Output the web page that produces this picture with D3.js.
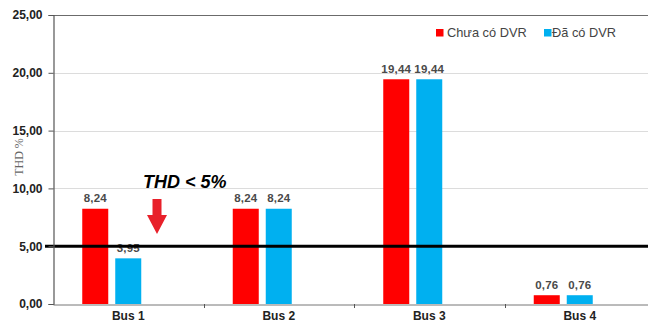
<!DOCTYPE html>
<html>
<head>
<meta charset="utf-8">
<script src="https://cdn.jsdelivr.net/npm/d3@7"></script>
<style>
  html, body { margin: 0; padding: 0; background: #fff; }
  svg { display: block; }
</style>
</head>
<body>
<svg id="chart" width="648" height="323"></svg>
<script>
// Harmonic distortion per bus, before and after the DVR
const categories = ["Bus 1", "Bus 2", "Bus 3", "Bus 4"];
const seriesNames = ["Chưa có DVR", "Đã có DVR"];
const beforeDVR = [8.24, 8.24, 19.44, 0.76];
const afterDVR = [3.95, 8.24, 19.44, 0.76];
const yTicks = [0, 5, 10, 15, 20, 25];
const limitValue = 5;
const limitLabel = "THD < 5%";
const yTitle = "THD %";

const colors = ["#ff0000", "#00b0f0"];
const seriesValues = [beforeDVR, afterDVR];

const svg = d3.select("#chart");
const plotLeft = 53, plotTop = 15, plotBottom = 304, plotRight = 655;

const x = d3.scaleBand().domain(categories).range([plotLeft, plotRight]).padding(0);
// three slots per group; the third one stays empty
const xSub = d3.scaleBand().domain([0, 1, 2])
  .range([29.25, x.bandwidth() - 29.25]).paddingInner(0.212).paddingOuter(0);
const y = d3.scaleLinear().domain([0, 25]).range([plotBottom, plotTop]);

const fmt = v => d3.format(".2f")(v).replace(".", ",");

// gridlines
svg.append("g").selectAll("line").data(yTicks.filter(t => t > 0 && t < 25)).join("line")
  .attr("x1", plotLeft).attr("x2", 648)
  .attr("y1", d => Math.round(y(d)) + 0.5).attr("y2", d => Math.round(y(d)) + 0.5)
  .attr("stroke", "#dcdcdc").attr("stroke-width", 1);

// top border
svg.append("line").attr("x1", plotLeft).attr("x2", 648)
  .attr("y1", Math.round(y(25)) + 0.5).attr("y2", Math.round(y(25)) + 0.5)
  .attr("stroke", "#6b6b6b").attr("stroke-width", 1.2);

// bars
const groups = svg.append("g").selectAll("g").data(categories).join("g")
  .attr("transform", d => `translate(${x(d)},0)`);

seriesValues.forEach((vals, si) => {
  groups.append("rect")
    .attr("x", xSub(si)).attr("width", xSub.bandwidth())
    .attr("y", (d, i) => y(vals[i]))
    .attr("height", (d, i) => y(0) - y(vals[i]))
    .attr("fill", colors[si]);
  groups.append("text")
    .attr("x", xSub(si) + xSub.bandwidth() / 2)
    .attr("y", (d, i) => y(vals[i]) - 6.5)
    .attr("text-anchor", "middle")
    .attr("font-family", "Liberation Sans, Arial, sans-serif")
    .attr("font-weight", "bold").attr("font-size", 11.5)
    .attr("letter-spacing", 0.2)
    .attr("fill", "#4a4a4a")
    .text((d, i) => fmt(vals[i]));
});

// limit line
svg.append("line").attr("x1", 45).attr("x2", 648)
  .attr("y1", y(limitValue)).attr("y2", y(limitValue))
  .attr("stroke", "#000").attr("stroke-width", 3);

// y axis
const yAxis = svg.append("g").attr("transform", `translate(${plotLeft + 0.5},0)`)
  .call(d3.axisLeft(y).tickValues(yTicks).tickFormat(fmt).tickSize(5).tickPadding(6));
yAxis.select(".domain").attr("stroke", "#555").attr("stroke-width", 1.2);
yAxis.selectAll(".tick line").attr("stroke", "#555");
yAxis.selectAll(".tick text")
  .attr("font-family", "Liberation Sans, Arial, sans-serif")
  .attr("font-weight", "bold").attr("font-size", 12).attr("fill", "#222");

// x axis
const xAxis = svg.append("g").attr("transform", `translate(0,${plotBottom + 0.5})`)
  .call(d3.axisBottom(x).tickSize(0).tickPadding(0));
xAxis.select(".domain").attr("stroke", "#777").attr("stroke-width", 1);
xAxis.selectAll(".tick text")
  .attr("y", 15.3).attr("dy", 0)
  .attr("font-family", "Liberation Sans, Arial, sans-serif")
  .attr("font-weight", "bold").attr("font-size", 12).attr("fill", "#222");
// category separators
svg.append("g").selectAll("line").data(categories.slice(1)).join("line")
  .attr("x1", d => Math.round(x(d)) + 0.5).attr("x2", d => Math.round(x(d)) + 0.5)
  .attr("y1", plotBottom).attr("y2", plotBottom + 4)
  .attr("stroke", "#555");

// y axis title
svg.append("text")
  .attr("transform", "translate(23,157) rotate(-90)")
  .attr("text-anchor", "middle")
  .attr("font-family", "Liberation Serif, Times New Roman, serif")
  .attr("font-size", 12).attr("fill", "#666")
  .text(yTitle);

// limit annotation
svg.append("text")
  .attr("x", 143).attr("y", 188)
  .attr("font-family", "Liberation Sans, Arial, sans-serif")
  .attr("font-weight", "bold").attr("font-style", "italic")
  .attr("font-size", 18).attr("fill", "#000")
  .text(limitLabel);

// red arrow pointing at the limit line
const ax = 157;
svg.append("path")
  .attr("d", `M${ax - 4.5},199 L${ax + 4.5},199 L${ax + 4.5},215 L${ax + 10},215 L${ax},234 L${ax - 10},215 L${ax - 4.5},215 Z`)
  .attr("fill", "#e8202a");

// legend
const legendX = [436, 544];
const legend = svg.append("g").selectAll("g").data(seriesNames).join("g")
  .attr("transform", (d, i) => `translate(${legendX[i]},29)`);
legend.append("rect").attr("width", 7.5).attr("height", 7.5)
  .attr("fill", (d, i) => colors[i]);
legend.append("text").attr("x", (d, i) => i === 0 ? 11 : 8).attr("y", 7.5)
  .attr("font-family", "Liberation Sans, Arial, sans-serif")
  .attr("font-size", 12.8).attr("fill", "#444")
  .text(d => d);
</script>
</body>
</html>
